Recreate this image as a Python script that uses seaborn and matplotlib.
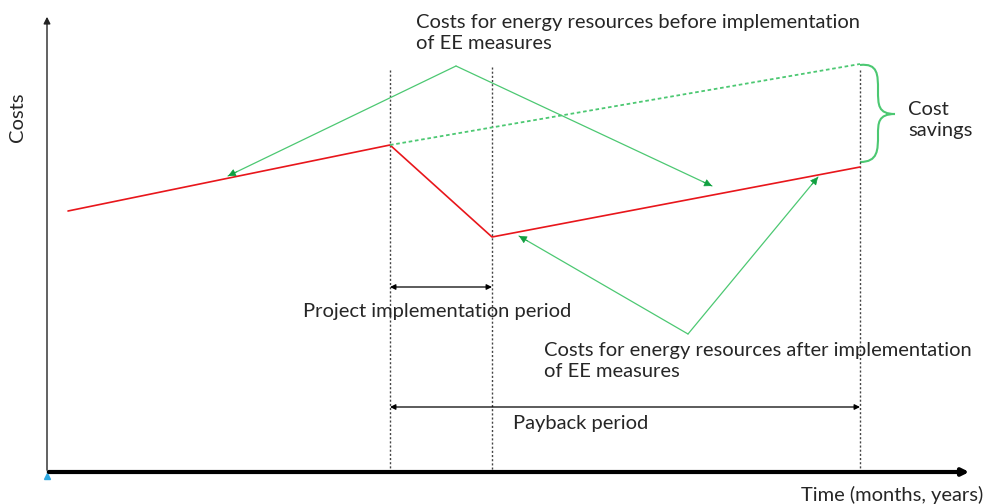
import numpy as np
import pandas as pd
import seaborn as sns
import matplotlib.pyplot as plt
from matplotlib.path import Path
from matplotlib.patches import PathPatch

# Schematic values, in picture coordinates (x to the right, y downward)
actual_x = [68, 390, 492, 860]
actual_y = [211, 145, 237, 167]
baseline_x = [390, 860]
baseline_y = [145, 64]
period_x = [390, 492, 860]
period_top = [70, 67, 70]
# annotation pointers: (start, tip)
before_pointers = [((456, 66), (228, 176)), ((456, 66), (712, 186))]
after_pointers = [((688, 334), (519, 236)), ((688, 334), (818, 177))]

sns.set_style("white")
plt.rcParams['font.family'] = ['Lato', 'DejaVu Sans']

fig = plt.figure(figsize=(9.84, 5.04), dpi=100)
ax = fig.add_axes([0, 0, 1, 1])
ax.set_xlim(0, 984)
ax.set_ylim(504, 0)
ax.axis("off")

GREEN = "#4cc872"
GREEN_DARK = "#10a040"

# axes arrows
ax.annotate("", xy=(47, 14), xytext=(47, 473),
            arrowprops=dict(arrowstyle="-|>", color="#222222", lw=1.0, mutation_scale=10))
ax.annotate("", xy=(972, 472), xytext=(46, 472),
            arrowprops=dict(arrowstyle="-|>", color="black", lw=3, mutation_scale=10))
ax.plot([47], [476], marker="^", color="#2ea8e0", markersize=4)

# period lines
for x, top in zip(period_x, period_top):
    ax.plot([x, x], [top, 472], color="#444444", lw=1, ls=(0, (1.5, 1.5)))

df_actual = pd.DataFrame({"x": actual_x, "y": actual_y})
df_base = pd.DataFrame({"x": baseline_x, "y": baseline_y})
sns.lineplot(data=df_actual, x="x", y="y", ax=ax, color="#e8161b", lw=1.2, sort=False)
sns.lineplot(data=df_base, x="x", y="y", ax=ax, color=GREEN, lw=1.3, ls=(0, (2, 1.5)), sort=False)
ax.set_xlim(0, 984)
ax.set_ylim(504, 0)

# pointer lines: light green shaft, darker green head
for start, tip in before_pointers + after_pointers:
    ax.plot([start[0], tip[0]], [start[1], tip[1]], color=GREEN, lw=0.9)
    d = np.subtract(tip, start)
    back = np.array(tip) - d / np.hypot(*d) * 10
    ax.annotate("", xy=tip, xytext=back,
                arrowprops=dict(arrowstyle="-|>", mutation_scale=12, shrinkA=0, shrinkB=0,
                                fc=GREEN_DARK, ec=GREEN_DARK, lw=0.5))

# curly brace
verts = [(860, 65), (878, 63), (878, 75), (878, 90),
         (878, 105), (878, 114), (895, 114),
         (878, 114), (878, 123), (878, 135),
         (878, 150), (878, 162), (860, 162)]
codes = [Path.MOVETO] + [Path.CURVE4] * 12
ax.add_patch(PathPatch(Path(verts, codes), fill=False, ec=GREEN, lw=1.5))

# double arrows
arrow_kw = dict(arrowstyle="<|-|>", color="black", lw=0.9, mutation_scale=8, shrinkA=0, shrinkB=0)
ax.annotate("", xy=(390, 287), xytext=(492, 287), arrowprops=arrow_kw)
ax.annotate("", xy=(390, 407), xytext=(860, 407), arrowprops=arrow_kw)

fs = 14.5
ax.text(416, 33, "Costs for energy resources before implementation\nof EE measures",
        fontsize=fs, ha="left", va="center", linespacing=1.35)
ax.text(437, 311, "Project implementation period", fontsize=fs, ha="center", va="center")
ax.text(544, 361, "Costs for energy resources after implementation\nof EE measures",
        fontsize=fs, ha="left", va="center", linespacing=1.35)
ax.text(581, 424, "Payback period", fontsize=fs, ha="center", va="center")
ax.text(908, 120, "Cost\nsavings", fontsize=fs, ha="left", va="center", linespacing=1.35)
ax.text(18, 117, "Costs", fontsize=fs, ha="center", va="center", rotation=90)
ax.text(983, 495, "Time (months, years)", fontsize=fs, ha="right", va="center")

fig.savefig("out.png", dpi=100)
